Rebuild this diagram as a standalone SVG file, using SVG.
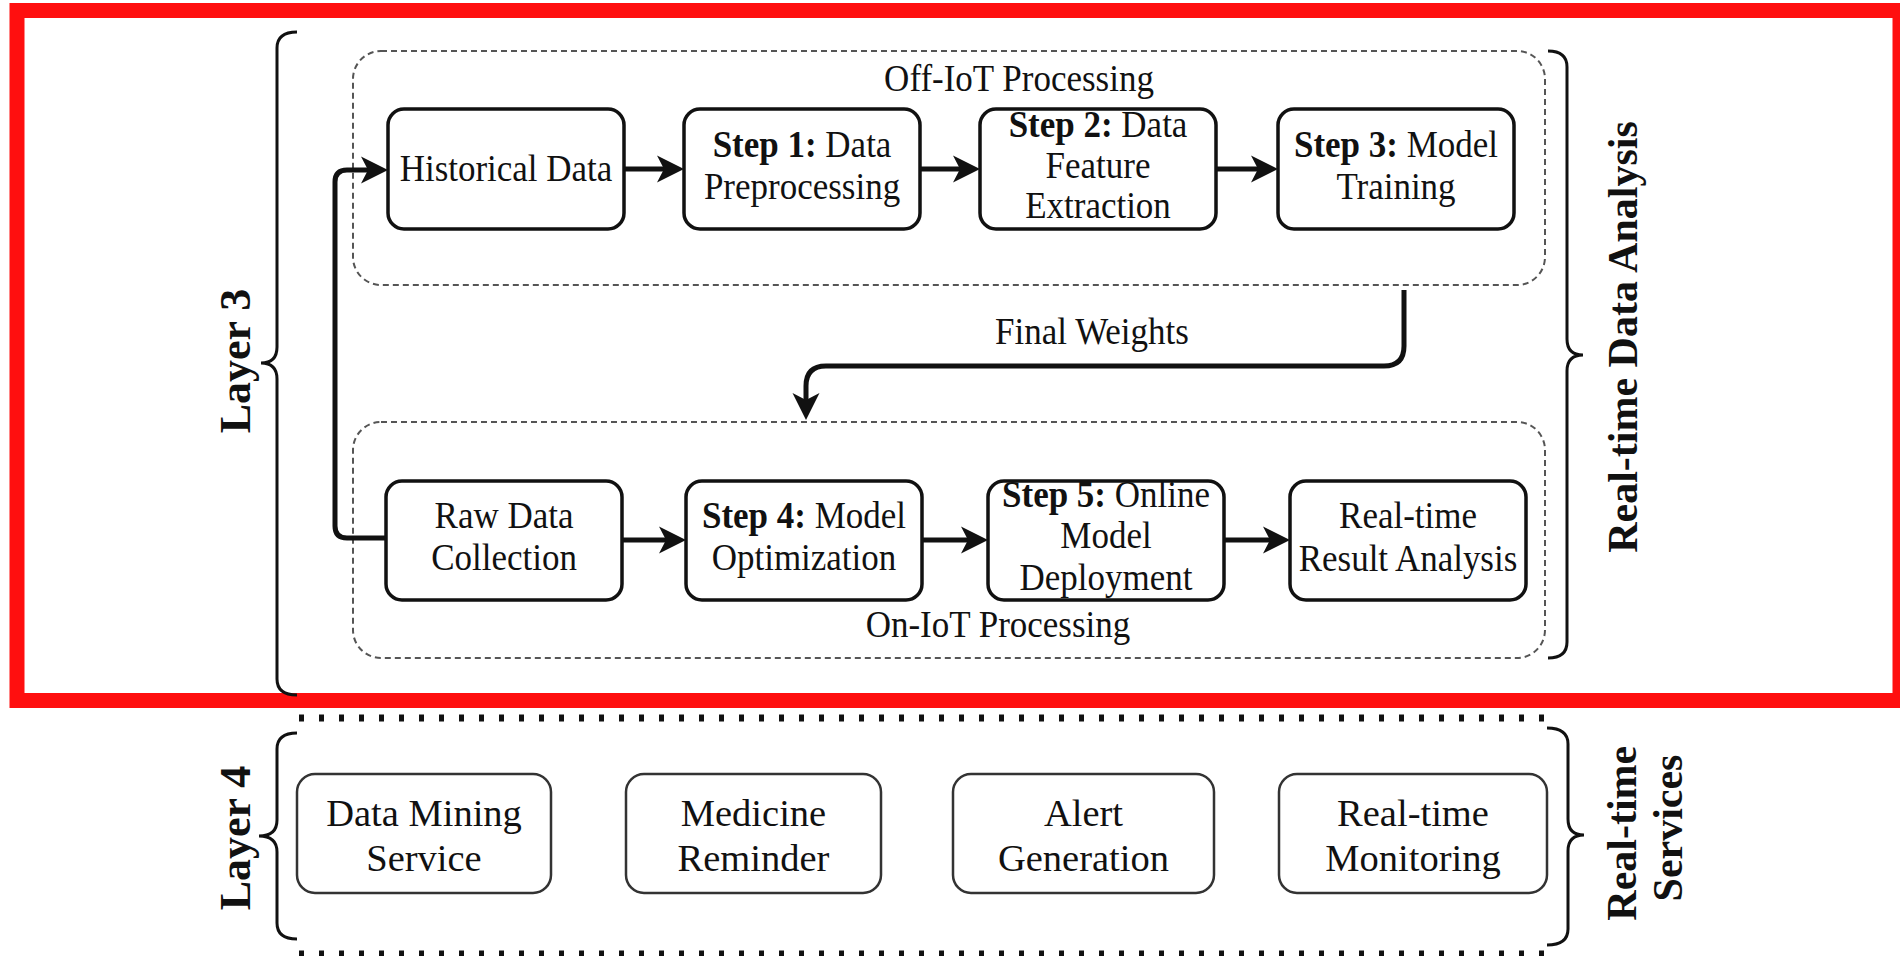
<svg xmlns="http://www.w3.org/2000/svg" width="1900" height="956" viewBox="0 0 1900 956">
  <style>
    text { font-family: "Liberation Serif", "Times New Roman", serif; fill: #111; }
    .lbl { font-size: 35px; text-anchor: middle; }
    .svc { font-size: 38.5px; text-anchor: middle; }
    .side { font-size: 44px; font-weight: bold; text-anchor: middle; }
    .side2 { font-size: 42px; font-weight: bold; text-anchor: middle; }
    .b { font-weight: bold; }
    .box { fill: #fff; stroke: #111; stroke-width: 3.5; }
    .sbox { fill: #fff; stroke: #333; stroke-width: 2.5; }
    .grp { fill: none; stroke: #555; stroke-width: 2; stroke-dasharray: 6 4; }
    .brace { fill: none; stroke: #111; stroke-width: 3; }
    .conn { fill: none; stroke: #111; stroke-width: 5; }
    .dots { fill: none; stroke: #111; stroke-width: 7; stroke-dasharray: 5 15; }
  </style>
  <defs>
    <marker id="arrow" markerUnits="userSpaceOnUse" markerWidth="40" markerHeight="40" viewBox="-10 -20 40 40" refX="0" refY="0" orient="auto">
      <path d="M -7 -13.5 L 20 0 L -7 13.5 L 0 0 Z" fill="#111"/>
    </marker>
  </defs>

  <rect width="1900" height="956" fill="#fff"/>

  <!-- Layer 3 highlight frame -->
  <rect x="17" y="10.5" width="1883" height="690" fill="none" stroke="#ff0f0f" stroke-width="15"/>

  <!-- processing groups -->
  <g id="off-iot">
    <rect class="grp" x="353" y="51" width="1192" height="234" rx="28"/>
    <text class="lbl" transform="translate(1019 91) scale(1 1.08)">Off-IoT Processing</text>
  </g>
  <g id="on-iot">
    <rect class="grp" x="353" y="422" width="1192" height="236" rx="28"/>
    <text class="lbl" transform="translate(998 637) scale(1 1.08)">On-IoT Processing</text>
  </g>

  <!-- connectors -->
  <g id="connectors">
    <path class="conn" d="M 624 169 H 664" marker-end="url(#arrow)"/>
    <path class="conn" d="M 920 169 H 960" marker-end="url(#arrow)"/>
    <path class="conn" d="M 1216 169 H 1258" marker-end="url(#arrow)"/>
    <path class="conn" d="M 622 540 H 666" marker-end="url(#arrow)"/>
    <path class="conn" d="M 922 540 H 968" marker-end="url(#arrow)"/>
    <path class="conn" d="M 1224 540 H 1270" marker-end="url(#arrow)"/>
    <path class="conn" d="M 386 538 H 347 Q 335 538 335 526 V 182 Q 335 170 347 170 H 368" marker-end="url(#arrow)"/>
    <path class="conn" d="M 1404 290 V 346 Q 1404 366 1384 366 H 826 Q 806 366 806 386 V 400" marker-end="url(#arrow)"/>
    <text class="lbl" transform="translate(1092 344) scale(1 1.08)">Final Weights</text>
  </g>

  <!-- Off-IoT steps -->
  <g id="historical-data">
    <rect class="box" x="388" y="109" width="236" height="120" rx="16"/>
    <text class="lbl" transform="translate(506 181) scale(1 1.08)">Historical Data</text>
  </g>
  <g id="step1">
    <rect class="box" x="684" y="109" width="236" height="120" rx="16"/>
    <text class="lbl" transform="translate(802 157) scale(1 1.08)"><tspan class="b">Step 1:</tspan> Data</text>
    <text class="lbl" transform="translate(802 199) scale(1 1.08)">Preprocessing</text>
  </g>
  <g id="step2">
    <rect class="box" x="980" y="109" width="236" height="120" rx="16"/>
    <text class="lbl" transform="translate(1098 137) scale(1 1.08)"><tspan class="b">Step 2:</tspan> Data</text>
    <text class="lbl" transform="translate(1098 178) scale(1 1.08)">Feature</text>
    <text class="lbl" transform="translate(1098 218) scale(1 1.08)">Extraction</text>
  </g>
  <g id="step3">
    <rect class="box" x="1278" y="109" width="236" height="120" rx="16"/>
    <text class="lbl" transform="translate(1396 157) scale(1 1.08)"><tspan class="b">Step 3:</tspan> Model</text>
    <text class="lbl" transform="translate(1396 199) scale(1 1.08)">Training</text>
  </g>

  <!-- On-IoT steps -->
  <g id="raw-data">
    <rect class="box" x="386" y="481" width="236" height="119" rx="16"/>
    <text class="lbl" transform="translate(504 528) scale(1 1.08)">Raw Data</text>
    <text class="lbl" transform="translate(504 570) scale(1 1.08)">Collection</text>
  </g>
  <g id="step4">
    <rect class="box" x="686" y="481" width="236" height="119" rx="16"/>
    <text class="lbl" transform="translate(804 528) scale(1 1.08)"><tspan class="b">Step 4:</tspan> Model</text>
    <text class="lbl" transform="translate(804 570) scale(1 1.08)">Optimization</text>
  </g>
  <g id="step5">
    <rect class="box" x="988" y="481" width="236" height="119" rx="16"/>
    <text class="lbl" transform="translate(1106 507) scale(1 1.08)"><tspan class="b">Step 5:</tspan> Online</text>
    <text class="lbl" transform="translate(1106 548) scale(1 1.08)">Model</text>
    <text class="lbl" transform="translate(1106 590) scale(1 1.08)">Deployment</text>
  </g>
  <g id="result-analysis">
    <rect class="box" x="1290" y="481" width="236" height="119" rx="16"/>
    <text class="lbl" transform="translate(1408 528) scale(1 1.08)">Real-time</text>
    <text class="lbl" transform="translate(1408 571) scale(1 1.08)">Result Analysis</text>
  </g>

  <!-- Layer 3 side labels -->
  <g id="layer3">
    <path class="brace" d="M 297 32 Q 277 32 277 48 V 347 Q 277 363 261 363 Q 277 363 277 379 V 679 Q 277 695 297 695"/>
    <text class="side" transform="translate(250 361) rotate(-90)">Layer 3</text>
  </g>
  <g id="realtime-analysis">
    <path class="brace" d="M 1548 51 Q 1567 51 1567 67 V 339 Q 1567 355 1583 355 Q 1567 355 1567 371 V 642 Q 1567 658 1548 658"/>
    <text class="side2" transform="translate(1637 337) rotate(-90)">Real-time Data Analysis</text>
  </g>

  <!-- Layer 4 -->
  <g id="layer4-bounds">
    <path class="dots" d="M 299 718 H 1545"/>
    <path class="dots" d="M 299 954 H 1545"/>
  </g>
  <g id="layer4">
    <path class="brace" d="M 297 733 Q 277 733 277 749 V 820 Q 277 836 259 836 Q 277 836 277 852 V 923 Q 277 939 297 939"/>
    <text class="side" transform="translate(250 838) rotate(-90)">Layer 4</text>
  </g>
  <g id="data-mining">
    <rect class="sbox" x="297" y="774" width="254" height="119" rx="18"/>
    <text class="svc" x="424" y="826">Data Mining</text>
    <text class="svc" x="424" y="871">Service</text>
  </g>
  <g id="medicine-reminder">
    <rect class="sbox" x="626" y="774" width="255" height="119" rx="18"/>
    <text class="svc" x="753.5" y="826">Medicine</text>
    <text class="svc" x="753.5" y="871">Reminder</text>
  </g>
  <g id="alert-generation">
    <rect class="sbox" x="953" y="774" width="261" height="119" rx="18"/>
    <text class="svc" x="1083.5" y="826">Alert</text>
    <text class="svc" x="1083.5" y="871">Generation</text>
  </g>
  <g id="realtime-monitoring">
    <rect class="sbox" x="1279" y="774" width="268" height="119" rx="18"/>
    <text class="svc" x="1413" y="826">Real-time</text>
    <text class="svc" x="1413" y="871">Monitoring</text>
  </g>
  <g id="realtime-services">
    <path class="brace" d="M 1547 728 Q 1568 728 1568 744 V 819 Q 1568 835 1584 835 Q 1568 835 1568 851 V 929 Q 1568 945 1547 945"/>
    <text class="side2" transform="translate(1636 828) rotate(-90)">
      <tspan x="0" y="0">Real-time</tspan>
      <tspan x="0" y="46">Services</tspan>
    </text>
  </g>
</svg>
